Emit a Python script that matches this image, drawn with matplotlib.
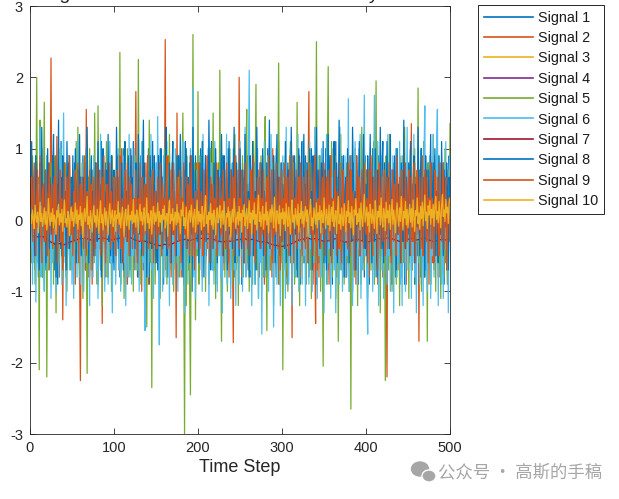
import numpy as np
import matplotlib
matplotlib.use("Agg")
import matplotlib.pyplot as plt
from matplotlib.patches import Ellipse

plt.rcParams['font.family'] = ['Liberation Sans', 'DejaVu Sans']
plt.rcParams['axes.unicode_minus'] = False

# ---- data: 10 mixed signals, 500 time steps (signals 4 and 7 sampled every 5 steps)
s1 = [.4,-.3,.7,.1,-.6,.5,.9,-.2,.3,-.8,.6,.2,-.4,1.0,-.5,.3,.7,-.7,.1,.5,-.3,.8,-.6,.4,.2,
      -.5,.9,.3,-.7,.6,-.1,.4,-.9,.7,.2,-.4,1.1,-.3,.5,-.6,.8,.1,-.8,.4,-.2,.9,-.5,.3,.6,-.7,
      .5,-.2,.8,-.6,.3,.7,-.4,.1,-.9,.6,.4,-.3,.9,-.5,.2,-.7,1.0,.3,-.4,.6,-.8,.5,.1,-.3,.7,
      -.6,.4,.8,-.2,.5,-.9,.3,.6,-.4,1.1,-.7,.2,.5,-.5,.8,-.3,.4,-.8,.7,.1,-.6,.9,-.2,.3,-.7,
      .6,.2,-.5,.9,-.3,.4,-.8,.7,.1,-.6,1.0,-.2,.5,-.9,.3,.6,-.4,.8,-.7,.2,.5,-.3,1.1,-.6,.4,
      -.2,.7,-.8,.3,.6,-.5,.9,-.1,.4,-.7,.8,.2,-.6,.5,-.3,1.0,-.9,.4,.7,-.4,.2,-.6,.9,.3,-.5,
      .8,-.3,.4,-.7,1.0,.2,-.5,.6,-.9,.3,.7,-.2,.5,-.8,.4,.9,-.6,.1,-.3,.8,-.7,.5,.2,-.4,.6,
      -.8,.9,.3,-.5,.6,-.2,.7,-.9,.4,1.1,-.6,.2,.5,-.7,.8,-.3,.4,-1.0,.6,.3,-.5,.9,-.4,.7,-.2,
      .5,-.7,1.0,.3,-.4,.6,-.8,.2,.9,-.5,.4,-.3,.8,-.6,.1,1.1,-.7,.5,-.2,.7,-.9,.3,.6,-.4,.8,
      -.3,.5,-.8,.9,.2,-.6,.7,-.4,.3,-.9,1.0,-.1,.6,-.7,.4,.8,-.5,.2,-.8,.9,-.3,.5,.1,-.6,.7,
      .4,-.9,.8,-.2,.6,-.5,1.1,-.7,.3,.5,-.4,.9,-.8,.2,.7,-.3,.6,-.9,.4,1.0,-.6,.2,-.4,.8,-.5,
      .7,.2,-.6,.9,-.4,.5,-.8,1.0,-.2,.3,-.7,.6,.4,-.5,.9,-.3,.2,-.8,.7,-.6,1.1,-.4,.5,-.2,.6,
      -.7,.8,.3,-.5,.6,-.9,.4,.7,-.3,1.0,-.6,.2,-.4,.9,-.8,.5,.3,-.7,.8,-.2,.6,-.9,.4,1.1,-.5,
      .3,-.6,.9,-.4,.7,.2,-.8,.5,-.3,1.0,-.7,.4,.6,-.5,.8,-.9,.3,.2,-.6,.9,-.4,.7,-.8,.5,.1,
      -.5,1.0,-.3,.6,-.7,.4,.8,-.6,.2,-.9,.7,.5,-.4,1.1,-.8,.3,-.2,.6,-.7,.9,.3,-.5,.8,-.3,.4,
      .6,-.8,.5,.2,-.6,.9,-.4,.7,-1.0,.3,.5,-.7,.8,-.2,.6,-.9,1.0,-.5,.4,.7,-.6,.3,-.8,.9,-.1,
      .7,-.4,.3,-.9,.8,.5,-.6,1.0,-.3,.4,-.7,.6,.2,-.8,.9,-.5,.3,-.4,.7,1.1,-.9,.5,-.2,.6,-.7,
      .3,.8,-.5,.4,-.9,.7,-.3,.6,.2,-.8,1.0,-.4,.5,-.6,.9,.3,-.7,.8,-.5,.2,-.9,.6,.4,-.3,.8,
      -.6,.5,1.0,-.7,.3,-.4,.8,-.9,.6,.1,-.5,.9,-.3,.7,-.8,.4,.6,-.6,1.1,-.2,.5,-.7,.3,.8,-.4,
      .6,-.9,.4,.7,-.3,.9,-.6,.2,-.5,1.0,-.8,.5,.3,-.7,.6,-.2,.8,-.9,.4,.7,-.5,.2,-.6,.9,.3]

s2 = [.2,-.5,.6,-.1,.4,-.7,.3,.8,-.4,.1,-.6,.5,-.2,.7,-.8,.3,-.3,.6,-.5,.9,-.2,.4,-.7,.1,2.27,
      -.3,.5,-.6,.2,.7,-.4,1.17,-.5,.3,-.8,.6,-.1,.4,-1.4,.2,.8,-.5,.3,-.7,.5,-.2,.9,-.6,.1,-.4,
      .6,-.3,.4,-.9,.2,.7,-.5,.1,-.6,-2.25,.5,-.2,.8,-.4,.3,-.7,1.55,-.3,.2,-.8,.6,-.1,.4,-.9,.5,
      -.2,.7,-.5,.3,-.6,.9,-.3,.1,-.7,.4,-1.45,.6,-.2,.5,-.8,.3,-.4,.8,-.6,.2,-.3,.7,-.9,.4,-.1,
      .5,-.6,.3,-.2,.8,-.7,.4,-.4,1.0,-.5,.2,-.8,.6,-.1,.3,-.9,.7,-.3,.5,-.6,.9,-.2,.1,-.7,.4,
      1.8,-.4,.3,-.8,.6,-.2,.5,-1.0,.7,-.3,.2,-.6,.8,-.5,.4,-.9,.3,-.1,.6,-.7,.9,-.4,.2,-.5,.7,
      -.6,.3,-.2,.8,-.9,.4,-.3,.6,-.5,.2,2.53,-.7,.5,-.4,.9,-.2,.3,-.8,.6,-.1,.4,-.6,.7,-1.65,1.5,
      -.5,.4,-.3,.7,-.8,.2,.5,-.6,.3,-.9,.8,-.2,.4,-.7,.6,-.3,.9,-.5,.1,-.6,.5,-.4,.8,-.2,.3,
      -.7,.6,-.1,.4,-.8,.9,-.3,.2,-.6,.5,-.4,.7,-.9,.3,-.2,.8,-.5,.4,-.7,1.0,-.3,.2,-.6,.7,-.4,
      .3,-.5,.8,-.2,.6,-.7,.4,-.3,.9,-.6,.2,-.8,.5,-.1,.7,-.4,-1.72,.6,-.3,.8,-.5,.3,-.6,2.0,-.2,
      .5,-.8,.4,-.3,.7,-.6,.2,-.4,.9,-.7,.3,-.1,.6,-.9,.5,-.2,.8,-.5,.4,-.6,.3,.7,-.8,.2,-.4,
      .6,-.3,.5,-.9,.2,.8,-.4,.3,-.7,.6,-.2,.4,-.8,1.0,-.5,.3,-.6,.7,-.1,.5,-.9,.4,-.3,.8,-.6,
      .2,-.5,.7,-.3,.4,-.8,.6,-.2,.9,-.6,.3,-1.65,.5,-.4,.8,-.7,.2,-.3,.6,-.5,.9,-.8,.4,-.1,.5,
      -.6,.3,-.4,.8,-.2,.5,1.8,-.7,.4,-.3,.6,-.9,.2,-.5,-1.45,.7,-.1,.5,-.8,.3,-.6,.9,-.4,.2,-.7,
      .5,-.3,.8,-.6,.2,-.9,.7,-.4,.3,-.5,1.0,-.2,.4,-.8,.6,-.3,.5,-.7,.9,-.4,.2,-.6,.7,-.2,.4,
      -.8,.6,-.3,.4,-.7,.9,-.5,.2,-.4,.8,-.6,.3,-.9,.5,-.1,.7,-.5,.4,-.8,.6,-.3,1.0,-.6,.2,-.4,
      .7,-.5,.3,-.8,.6,-.2,.4,-.7,.9,-.3,.5,-.6,.2,-.9,.8,-.4,.3,-.5,.7,-.8,.6,-.2,.4,-.6,-2.2,
      .5,-.3,.8,-.6,.4,-.9,.2,.7,-.5,.3,-.4,.9,-.7,.1,-.3,.6,-.8,.5,-.2,.7,-.6,.4,-.9,.3,-.1,
      .6,-.4,.2,1.35,-.7,.5,-.3,.8,-.6,.4,-.2,.7,-1.7,.3,-.5,.9,-.4,.6,-.8,.2,-.3,.7,-.5,.4,-.9,
      .5,-.2,.8,-.6,.3,-.7,.4,-.3,.9,-.5,.2,-.8,.6,-.1,.4,-.7,.8,-.4,.3,-.6,.5,-.9,.7,-.2,.4]

s3 = [.1,-.2,.3,0,-.1,.2,-.3,.1,.4,-.1,.2,-.2,0,.3,-.3,.1,.2,-.1,.3,-.2,0,.1,-.4,.2,.1,
      -.1,.3,-.2,.1,0,.2,-.3,.4,-.1,.1,.2,-.2,.3,0,-.1,.2,-.4,.1,.3,-.2,.1,0,.2,-.3,.1,
      .3,-.1,0,.2,-.2,.4,.1,-.3,.2,0,-.1,.3,-.2,.1,.2,-.4,.3,0,-.1,.2,-.3,.1,.4,-.2,0,
      .2,-.3,.1,.3,-.1,0,.2,-.2,.4,-.1,.1,-.3,.2,.3,-.2,0,.1,-.1,.3,-.4,.2,.1,-.2,.3,-.1,
      0,.2,-.2,.1,.4,-.3,.1,0,-.1,.3,-.2,.2,.1,-.4,.3,-.1,.2,0,-.3,.1,.3,-.2,.1,.2,-.1,
      .3,-.2,.1,-.1,.2,.4,-.3,0,.2,-.1,.3,-.2,.1,0,-.3,.2,.4,-.1,.1,-.2,.3,0,-.4,.2,.1,
      -.2,.1,.3,-.1,0,.2,-.3,.1,.3,-.2,.4,-.1,0,.2,-.2,.1,.3,-.4,.2,0,-.1,.3,-.2,.1,.2,
      -.1,.4,-.2,.1,.2,-.3,0,.3,-.1,.2,-.2,.1,.4,-.3,.1,0,-.2,.3,-.1,.2,-.4,.1,.3,-.2,0,
      .2,-.1,.3,-.3,.1,.2,0,-.2,.4,-.1,.1,-.3,.2,.3,-.2,.1,0,-.4,.3,.1,-.1,.2,-.2,.4,-.3,
      .1,.3,-.2,0,.2,-.1,.3,-.3,.1,.2,-.2,.4,-.1,0,.3,-.2,.1,-.4,.2,.3,-.1,0,.2,-.3,.1,
      -.2,.3,.1,-.1,.4,-.3,.2,0,-.2,.1,.3,-.1,.2,-.4,.1,.3,-.2,0,.2,-.1,.4,-.3,.1,.2,-.2,
      .1,0,-.3,.3,-.1,.2,.1,-.2,.4,-.3,.1,.2,-.1,.3,0,-.2,.2,-.4,.1,.3,-.1,.2,-.2,0,.3,
      -.1,.2,-.3,.1,.3,-.2,0,.4,-.1,.2,-.3,.1,.2,-.2,.3,0,-.1,.2,-.4,.1,.3,-.2,.1,.2,-.1,
      .3,-.2,.1,.2,-.3,0,.3,-.1,.1,-.4,.2,.3,-.2,.1,0,-.1,.4,-.3,.2,.1,-.2,.3,-.1,0,.2,
      -.3,.1,.2,-.1,.3,-.2,.1,.4,-.3,0,.2,-.1,.3,-.2,.1,.2,-.4,.1,0,.3,-.1,.2,-.3,.1,.3,
      -.2,0,.2,-.1,.3,-.3,.1,.2,-.2,.4,-.1,0,.3,-.2,.1,-.3,.2,.3,-.1,.1,-.4,.2,0,.3,-.1,
      .2,-.3,.1,0,.3,-.2,.4,-.1,.1,-.3,.2,.1,-.2,.3,0,-.1,.2,-.4,.3,.1,-.2,.2,-.1,.4,-.3,
      .1,.2,-.1,.3,-.3,.1,0,.2,-.2,.4,-.1,.1,-.3,.2,.3,-.2,0,.1,-.4,.2,.3,-.1,.2,-.2,.1,
      0,.3,-.2,.1,.2,-.3,.4,-.1,0,.2,-.2,.3,-.4,.1,.2,-.1,.3,-.2,0,.1,-.3,.4,-.1,.2,-.2,
      .3,-.1,.1,-.3,.2,0,.2,-.2,.3,-.1,.4,-.3,.1,0,-.2,.2,.1,-.4,.3,-.1,.2,-.2,.1,.3,-.1]

s4 = [-.10,-.14,-.08,-.16,-.12,-.06,-.11,-.18,-.13,-.09,-.15,-.07,-.12,-.17,-.10,-.13,-.08,-.14,-.19,-.11,
      -.09,-.15,-.12,-.06,-.13,-.17,-.10,-.14,-.08,-.12,-.16,-.11,-.07,-.13,-.18,-.10,-.14,-.09,-.12,-.15,
      -.11,-.06,-.13,-.17,-.09,-.14,-.10,-.16,-.12,-.08,-.15,-.11,-.18,-.13,-.07,-.12,-.16,-.10,-.14,-.09,
      -.13,-.17,-.11,-.08,-.15,-.12,-.10,-.16,-.13,-.07,-.14,-.11,-.18,-.09,-.12,-.15,-.10,-.13,-.17,-.08,
      -.12,-.14,-.09,-.16,-.11,-.13,-.07,-.15,-.12,-.10,-.17,-.13,-.08,-.14,-.11,-.16,-.10,-.12,-.15,-.09]

s5 = [.3,-.6,.9,-.2,.5,-.9,.1,2.0,-.4,.6,-2.1,1.4,-.3,.2,-.8,.4,1.65,-.5,.7,-2.2,.3,-.7,.5,-.1,.8,
      -.4,.6,-.9,.2,.9,-1.3,.4,-.2,.7,-.6,1.0,-.3,.1,-.8,.5,-.5,.8,.2,-1.0,.6,-.3,.9,-.7,.3,-.2,
      .7,-.9,.4,-.4,1.1,-.6,1.3,.1,-.8,.3,-.2,.8,-1.1,.5,-.3,.9,.2,-2.15,.6,-.5,1.0,-.7,.4,-.1,.7,
      -.6,1.5,-.3,.2,-.9,1.6,-.4,.6,-.7,.3,-1.2,.8,-.2,.5,-.5,1.1,-.8,.1,.7,-.6,.4,-1.0,.9,-.3,.2,
      .6,-.7,.3,-.2,.9,-.5,2.35,-.9,.4,-.3,.8,-1.1,.2,.6,-.6,1.0,-.4,.1,-.8,.7,-.2,.5,-1.0,.3,.9,
      -.5,.4,-.7,2.25,-.3,.6,-.9,.2,1.1,-.4,.5,-.8,.3,-1.5,.7,-.2,1.4,-.6,.4,-2.35,.8,-.3,.1,-.9,.6,
      -.4,.9,-.6,.2,-1.1,.7,-.2,.5,-.8,1.0,-.5,.3,-.9,.6,-.1,1.2,-.7,.4,-.3,.8,-1.0,.2,.5,-.6,.9,
      -.4,.6,-.8,.3,-.2,.7,1.5,-.5,-3.0,.4,-1.2,.9,-.6,.2,-.9,-2.45,.5,-.3,2.6,-.7,.8,-1.4,.3,-.5,1.8,
      -.9,.4,-.2,.9,-.6,1.1,-.4,.2,-1.0,.7,-.3,.5,-.8,.3,1.0,-.6,.1,1.5,-.7,.4,-1.1,.6,-.2,.8,-.5,
      2.1,-.4,-1.7,.5,-.3,.9,-.8,.2,.6,-1.0,.4,-.2,1.0,-.6,.3,-.9,.7,-.4,1.2,-.7,.1,.5,-1.2,.8,-.3,
      .6,-.5,.9,-.8,.2,-.3,.7,1.55,-.6,.4,-1.0,.8,-.2,.3,-.9,1.1,-.4,.5,1.9,-.7,.2,-1.1,.6,-.3,.9,
      -.5,.4,-.8,.7,1.45,-.2,-1.55,.6,-.4,1.0,-.7,.3,-.1,.8,-1.2,.5,-.3,.9,-.6,.2,2.2,-.9,.4,-.5,.7,
      -2.1,.6,-.3,.9,-.7,.2,-1.0,.5,-.4,1.1,-.6,.3,-.2,.8,-.9,.4,-.5,1.65,-.8,.3,-1.2,.7,-.1,.5,-.6,
      .9,-.4,.2,-.9,.6,-.3,1.0,-.7,.4,-1.1,.8,-.2,.5,-.6,.1,2.5,-.8,.3,-.4,.9,-1.0,.6,-.3,-2.05,.7,
      -.5,.4,-.9,.8,2.15,-.6,.2,-.3,1.1,-.8,.5,-.2,.9,-1.1,.3,.6,-1.7,.4,-.4,1.2,-.7,.1,.7,-.9,.5,
      -.3,.8,-.6,.3,-1.0,.6,-2.65,.9,-.4,.2,-.8,1.0,-.5,.4,-1.2,.7,-.2,.5,-.9,1.3,-.3,.2,-.7,.8,-.4,
      .6,-1.1,.3,-.2,.9,-.7,.5,-.4,1.1,-.9,.2,1.95,-.6,.7,-.3,.4,-1.3,.8,-.1,.5,-.8,.3,-2.25,.9,-.5,
      .4,-.7,1.2,-.3,.6,-1.0,.2,.8,-.5,.3,-.9,1.0,-.2,.5,-1.2,.7,-.4,.9,-.6,.1,1.3,-.8,.4,-.3,.6,
      -1.1,.5,-.2,.9,-.7,.3,-.5,1.0,-.9,.4,-.3,1.85,-.6,.2,.7,-1.0,.5,-.4,1.1,-.8,.3,.6,-1.7,.8,-.2,
      .4,-.9,.7,-.3,1.2,-.6,.2,-1.0,.5,-.4,.9,-.7,.3,-1.1,.8,-.2,.6,-.8,1.0,-.5,.2,-.9,.7,-.3,1.35]

s6 = [-.4,.6,-.9,.3,-.2,.8,-1.15,.1,-.6,.5,-.3,1.3,-.8,.2,.7,-.5,-1.0,.4,-.1,.9,-.7,.3,-.4,.6,-1.1,
      .2,-.6,.8,-.3,.5,-1.0,.1,.7,-.8,.4,-.2,1.0,-.9,.3,1.5,-.5,.6,-1.2,.2,-.4,.9,-.7,.1,.5,-.9,
      .4,-1.1,.7,-.2,.3,-.8,1.1,-.5,.2,-.9,.6,-.3,.8,-1.0,.1,.5,-.6,1.0,-.4,.3,-1.2,.7,-.1,.4,-.8,
      .9,-.3,.5,-.7,.2,-1.1,.6,-.4,1.2,-.8,.3,-.2,.7,-1.0,.4,-.5,.8,-.9,.1,1.1,-.6,.3,-1.3,.5,-.2,
      .6,-.9,.4,-.3,1.0,-.7,.2,-1.0,.5,-.4,.9,-.6,.3,-1.2,.7,.1,-.8,1.2,-.3,.4,-.9,.6,-.5,1.0,-.2,
      -.7,.5,-.2,.8,-1.0,.3,-.4,1.1,-.6,.2,-.9,-1.55,.6,-.3,.9,-.8,.4,-.1,1.2,-.7,.3,-1.1,.5,-.4,.8,
      -.3,1.45,-.6,-1.75,.7,-.2,.4,-1.0,.9,-.5,.3,-.8,1.1,-.4,.2,-1.2,.6,-.3,.8,-.9,.4,-.6,1.0,-.2,.5,
      -1.0,.3,-.5,.9,-.7,.2,1.1,-.4,-1.3,.6,-.2,.8,-.9,.4,-.6,1.0,-.3,.2,1.85,-.8,.5,-1.1,.7,-.4,.3,
      -.6,.9,-.2,.4,-1.0,1.2,-.5,.3,-.8,.7,-.3,1.0,-1.2,.5,-.1,.8,-.7,.2,-.9,1.1,-.4,.6,-1.0,.3,-.5,
      .7,-.8,.4,-1.3,.9,-.2,.5,-.6,1.2,-.9,.3,-.4,.8,-1.1,.6,-.3,1.0,-.7,.2,-1.2,.7,-.5,.4,-.9,1.1,
      -.3,.6,-1.0,.4,-.5,1.3,-.8,.2,-.4,.9,2.1,-.7,.5,-1.2,.3,-.2,.8,-.9,.6,-.4,1.0,-1.1,.2,-.6,.7,
      -1.6,.5,-.3,1.1,-.8,.4,-.2,.9,-1.0,.6,-.5,1.2,-.4,.3,-1.5,.7,-.6,1.0,-.9,.2,-.3,.8,-1.2,.5,-.1,
      .9,-.7,.3,-1.1,1.3,-.4,.6,-.9,.2,-.5,1.0,-1.2,.4,-.2,.8,-.8,.5,-.3,1.2,-1.0,.6,-.4,.3,-.9,1.1,
      -.5,.2,-1.2,.8,-.3,.6,-.9,1.1,-.4,.3,-1.0,.7,-.6,1.3,-.2,.5,-1.1,.9,-.5,.4,-.8,1.0,-.3,.6,-1.3,
      .4,-.6,1.2,-.9,.2,-.4,.9,-1.1,.6,-.2,1.0,-.7,.3,-1.3,.8,-.5,.4,-.9,1.3,-.3,.6,-1.0,.5,-.4,.9,
      -.8,.3,-.5,1.7,-1.0,.6,-.3,.9,-1.2,.4,-.6,1.1,-.2,.5,-.9,.8,-.4,1.2,-1.1,.3,-.7,.6,1.75,-.5,.2,
      -.9,-1.6,.7,-.3,1.0,-.6,.4,-1.0,.2,1.75,-.8,.5,-.4,1.1,-1.2,.3,-.2,.9,-.7,.6,-1.1,.8,-.3,.4,-.9,
      1.2,-.5,.3,-1.0,.7,-.4,.9,-1.3,.5,-.2,1.0,-.8,.4,-.6,1.1,-.9,.3,-1.2,.8,-.3,.6,-1.0,.2,1.3,-.7,
      .5,-.4,.9,-1.1,.3,-.6,1.2,-.8,.4,-1.3,.7,-.2,.6,-.9,1.0,-.5,.3,-1.2,.8,1.6,-.7,.4,-1.0,.6,-.3,
      .9,-1.1,.4,-.5,1.2,-.8,.3,-.6,1.0,1.55,-1.2,.5,-.3,.8,-.9,.2,-1.1,.7,-.4,1.1,-.7,.4,-1.3,.6,.9]

s7 = [-.22,-.24,-.23,-.27,-.31,-.34,-.33,-.35,-.32,-.30,-.28,-.26,-.25,-.27,-.29,-.27,-.25,-.26,-.28,-.27,
      -.26,-.24,-.22,-.25,-.28,-.30,-.29,-.31,-.33,-.35,-.36,-.34,-.35,-.33,-.30,-.28,-.27,-.29,-.27,-.25,
      -.26,-.27,-.25,-.28,-.30,-.31,-.29,-.30,-.28,-.27,-.26,-.28,-.27,-.29,-.31,-.30,-.33,-.35,-.36,-.37,
      -.36,-.34,-.31,-.28,-.27,-.25,-.27,-.26,-.28,-.30,-.29,-.27,-.26,-.29,-.31,-.30,-.28,-.27,-.29,-.31,
      -.30,-.28,-.26,-.27,-.25,-.26,-.28,-.30,-.29,-.27,-.26,-.28,-.27,-.25,-.28,-.30,-.29,-.27,-.28,-.26]

s8 = [.3,1.1,-.2,.6,.1,-.5,.9,.4,-.1,.2,-.7,.8,.2,1.3,0,.5,-.3,.7,-.6,.4,1.0,.1,-.4,.6,.2,
      -.2,.7,1.2,-.1,.3,-.8,.5,.2,1.4,-.3,.1,.6,-.5,.9,.3,-.1,.4,-.7,1.1,.2,.8,-.4,0,.5,-.2,
      .9,-.3,.2,1.0,-.6,.4,.7,-.1,1.2,0,-.5,.3,.6,-.2,.8,.1,-.4,1.3,.2,-.6,.5,.3,.9,-.1,.4,
      -.5,.2,.8,.1,-.3,1.1,-.2,.5,.3,-.8,.6,1.0,-.1,.4,-.4,.7,0,1.2,-.3,.2,-.5,.9,.4,-.6,.7,
      .2,-.1,1.3,.5,-.4,.6,.1,-.6,.8,.3,-.7,.5,1.1,-.2,.4,-.3,.9,.2,-.5,1.0,0,.6,-.2,.3,-.4,
      .8,.3,-.6,1.2,.1,-.2,.6,-.5,.4,1.4,-.1,.2,.5,-.8,.7,0,-.3,.9,.3,-.4,1.1,-.2,.5,.2,-.6,
      .4,-.7,.9,.2,-.2,1.0,.5,-.4,.3,-.1,.7,1.3,-.5,.2,0,.8,-.3,-.6,.6,1.1,-.2,.4,.1,-.5,.9,
      .1,-.3,.5,1.2,-.1,.3,-.8,.7,.4,0,1.0,-.4,.6,.2,-.6,.9,.3,-.2,1.3,.1,-.5,.7,.2,-.3,.4,
      -.6,.8,.2,-.2,1.1,0,-.5,.4,.9,-.3,.6,-.1,1.4,.3,-.7,.5,.2,-.4,.8,-.2,1.0,.3,-.6,.7,.1,
      -.3,.5,1.2,.1,-.5,.9,.3,-.1,.6,-.7,.4,1.1,-.2,0,.7,-.4,.5,1.3,-.6,.2,.8,-.1,.3,-.5,1.0,
      .3,-.4,.7,.2,-.6,1.2,.1,.5,-.3,.4,-.8,.9,.6,-.1,1.1,-.5,.2,.4,-.7,1.3,.3,0,.6,-.4,.8,
      0,1.0,-.5,.4,.2,-.7,.8,-.1,.3,1.4,-.4,.1,.7,-.3,.9,.2,-.6,.5,1.2,-.2,.6,.1,-.5,.8,-.3,
      .5,.1,-.4,1.1,-.6,.3,.8,0,.2,-.5,1.3,.4,-.3,.1,.9,-.2,.6,-.8,.5,1.0,.2,-.1,.7,-.4,.3,
      1.2,-.3,.5,0,.8,-.6,.2,1.0,-.1,.4,-.7,.9,.3,-.2,.6,1.3,-.5,.7,.1,-.4,.5,.8,-.1,1.1,-.6,
      .7,.2,-.7,.4,1.2,-.1,.9,-.5,.3,0,-.4,1.1,.5,-.2,.8,-.6,.1,1.4,-.3,.6,-.4,.2,.9,-.8,.4,
      .6,-.1,1.0,.2,-.6,.7,0,-.3,1.3,.5,-.2,.4,-.7,.9,.1,-.1,1.1,-.5,.3,.6,-.3,1.2,0,-.4,.5,
      -.5,.9,.3,-.1,1.2,.2,-.6,.6,0,-.3,1.0,.1,-.8,.7,.4,-.2,1.3,.5,-.4,.2,-.6,.8,.3,-.2,1.1,
      0,.6,-.4,1.2,-.5,.3,.7,-.1,.9,.2,-.7,1.0,-.2,.5,.4,-.6,.8,.1,-.3,1.4,0,-.4,.6,.3,-.2,
      .8,-.5,1.1,.2,-.3,.4,.9,-.6,.5,0,-.1,1.3,.2,-.5,.7,1.0,-.4,.1,.6,-.8,.9,.3,-.1,.7,-.3,
      .5,1.2,-.4,.3,.8,-.2,1.0,-.5,.4,0,-.6,.9,.1,-.2,1.1,.3,-.5,.7,0,-.1,.8,.4,-.7,.6,.2]

s9 = [.2,.6,-.3,.4,.8,0,-.5,.3,.7,-.1,.1,.9,-.2,-.6,.4,.5,0,-.3,.7,.2,-.5,.1,.8,-.2,.3,
      .5,-.4,.1,.6,-.2,.9,.2,-.6,0,.4,.7,-.3,.3,-.7,.2,.8,-.1,.1,.6,-.4,.3,.9,0,-.2,.2,
      -.5,.4,.1,.7,-.3,0,.8,-.6,.2,.5,-.2,.6,.1,-.4,.9,0,-.5,.4,.3,-.3,.7,-.1,.5,-.7,.1,
      .6,0,-.4,.8,.2,-.2,.3,.7,-.5,.1,.6,-.3,.9,0,-.6,.2,.5,-.2,.1,.8,-.4,.4,0,-.3,.6,
      .2,-.5,.7,.1,-.2,.4,.9,-.4,0,.3,-.6,.2,.7,-.1,-.3,.8,.1,-.5,.6,0,.5,-.4,.2,.3,-.2,
      .7,.1,-.6,.3,0,.8,-.3,.2,.6,-.5,.1,.5,-.2,.3,.9,-.4,0,.6,-.3,.2,.7,-.6,.1,.4,-.1,
      -.4,.6,.1,-.2,.8,.2,-.5,.5,0,.3,-.3,.4,.9,-.4,.1,.3,-.6,.7,0,-.2,.8,.2,-.5,.1,.6,
      0,-.3,.7,.2,-.6,.3,.1,.8,-.2,.2,-.4,.6,0,.5,-.5,.1,.9,-.3,.3,0,-.7,.4,.2,-.2,.5,
      .8,-.4,.1,.4,0,-.5,.7,.2,-.3,.3,.9,-.2,.1,-.6,.6,.2,-.4,.5,0,.3,-.3,.8,-.5,.1,.2,
      .6,-.2,.3,-.5,.7,.1,0,-.4,.8,.2,-.6,.3,.1,.7,-.3,0,.6,-.5,.9,.1,-.2,.2,.7,-.4,.3,
      .1,.7,-.3,.2,-.6,.4,.8,0,-.4,.3,.1,-.5,.7,.2,-.2,.9,.1,-.6,.3,0,.6,-.3,.2,.8,-.4,
      .3,-.2,.7,.1,-.5,.2,.6,-.3,.9,0,-.4,.3,.7,-.6,.1,.2,-.2,.8,.3,-.4,.1,.6,-.7,.2,.7,
      -.3,.3,0,.8,-.4,.6,.1,-.5,.7,.2,-.2,.9,.1,-.6,.3,0,.7,-.4,.2,.6,-.3,.8,0,-.5,.2,
      .6,.1,-.4,.7,0,-.6,.3,.8,-.2,.2,.1,-.5,.6,.9,-.3,.2,-.7,.3,0,.7,-.4,.1,.6,-.2,.8,
      .2,-.5,.6,0,.7,-.3,.2,.9,-.6,.1,.3,-.2,.7,.2,-.5,.4,.1,-.4,.8,0,-.6,.3,.7,-.3,.2,
      0,.6,-.4,.8,.1,-.5,.7,.2,-.2,.4,-.7,.3,.1,.9,-.3,.2,.6,-.5,0,.7,.2,-.4,.8,.1,-.2,
      .3,-.6,.7,.1,-.3,.9,0,-.5,.6,.2,-.2,.7,.1,-.7,.3,.8,-.4,.1,.6,-.3,.2,.7,-.5,0,.6,
      -.4,.3,.8,0,-.6,.2,.7,-.3,.5,.1,-.5,.9,0,-.2,.6,.2,-.6,.7,.1,.3,-.4,.8,0,-.3,.5,
      .7,0,-.5,.6,.2,-.3,.8,.1,-.6,.3,.7,-.2,.2,.6,-.4,.1,.9,-.5,0,.7,.2,-.3,.6,-.6,.3,
      .1,.8,-.4,.3,0,-.6,.7,.2,-.2,.6,.1,-.5,.8,0,-.3,.3,.7,-.4,.2,.6,-.7,.1,.3,0,-.3]

s10 = [.08,-.05,.14,.02,-.12,.21,.04,-.03,.11,-.18,.06,.25,-.02,.09,-.09,.03,.17,-.06,.12,-.14,.01,.30,.05,-.08,.10,
       -.02,.16,-.11,.07,.00,-.20,.13,.04,.22,-.07,.09,-.03,.15,-.16,.05,.28,-.04,.02,-.10,.12,.06,-.22,.08,.18,-.01,
       .11,-.09,.03,.24,-.05,.14,-.13,.07,.01,.19,-.08,.10,-.25,.04,.16,-.02,.09,.33,-.06,.05,-.12,.13,.00,-.17,.08,
       .20,-.03,.06,-.10,.15,.02,-.19,.11,.27,-.04,.08,-.14,.03,.17,-.07,.12,-.01,-.21,.09,.23,-.05,.04,.14,-.09,.01,
       .13,-.16,.07,.02,.26,-.06,.10,-.11,.05,.18,-.02,-.24,.09,.15,-.08,.03,.21,-.13,.06,.00,.12,-.05,.29,-.03,.07,
       -.10,.14,.04,-.18,.08,.22,-.01,.11,-.07,.03,.17,-.15,.06,.31,-.04,.09,-.12,.02,.13,-.20,.07,.19,-.06,.10,-.02,
       .05,.24,-.09,.12,-.03,.07,-.16,.15,.01,.20,-.11,.04,.09,-.23,.13,.27,-.05,.08,-.01,.16,-.14,.03,.11,-.07,.22,
       -.04,.10,.02,-.19,.14,.06,.25,-.08,.03,-.12,.18,.00,-.26,.09,.13,-.03,.21,.05,-.10,.07,.15,-.17,.04,.28,-.06,
       .12,-.02,.08,-.14,.19,.03,-.09,.16,.34,-.05,.06,-.18,.11,.01,.23,-.07,.09,-.13,.14,.02,-.21,.10,.17,-.04,.05,
       .20,-.11,.07,.13,-.06,.26,.00,-.15,.09,.04,.18,-.09,.12,-.24,.06,.15,-.03,.30,.08,-.12,.03,.11,-.07,.19,-.01,
       .09,-.17,.14,.05,.22,-.08,.02,.16,-.12,.07,.27,-.04,.10,-.20,.13,.01,.24,-.06,.08,-.14,.17,.35,-.02,.11,-.09,
       .04,.19,-.13,.08,.00,.25,-.07,.12,-.18,.06,.15,-.03,.21,.09,-.11,.32,.03,-.16,.13,.07,-.05,.20,-.22,.10,.02,
       .16,-.06,.11,-.15,.23,.04,-.09,.18,.01,-.20,.13,.28,-.03,.07,-.12,.16,.05,-.07,.22,-.17,.09,.02,.26,-.05,.12,
       -.10,.08,.19,-.02,.14,-.23,.06,.11,.29,-.08,.03,-.14,.17,.05,-.06,.24,-.11,.10,.01,.20,-.18,.13,.07,-.04,.31,
       .06,-.12,.15,.03,-.07,.21,-.15,.09,.18,-.02,.26,-.09,.04,.13,-.19,.11,.33,-.05,.08,-.13,.17,.02,-.08,.23,.06,
       -.16,.12,.05,.27,-.04,.10,-.11,.19,.01,-.21,.14,.07,.30,-.06,.09,-.02,.16,-.14,.24,.04,-.09,.13,.36,-.03,.08,
       .18,-.08,.11,-.17,.22,.06,-.05,.15,.02,-.12,.27,.09,-.19,.12,.04,.20,-.07,.31,.01,-.10,.16,.07,-.15,.25,.03,
       .13,-.04,.21,-.13,.08,.29,-.06,.14,.00,-.18,.11,.24,.05,-.09,.17,-.02,.33,.07,-.14,.12,.03,.26,-.07,.15,-.11,
       .09,.22,-.03,.16,-.10,.28,.04,-.16,.13,.06,.31,-.05,.10,-.13,.19,.02,.25,-.08,.14,.35,-.01,.11,-.12,.20,.07,
       .27,-.06,.15,.03,.22,-.09,.18,.33,.01,.12,-.04,.26,.08,-.11,.20,.36,.05,.14,-.02,.29,.10,.18,-.05,.24,.31]

signals = [s1, s2, s3, s4, s5, s6, s7, s8, s9, s10]
labels = ['Signal %d' % (i + 1) for i in range(10)]
n_steps = 500

# MATLAB default line colours
colors = ['#0072BD', '#D95319', '#EDB120', '#7E2F8E', '#77AC30', '#4DBEEE', '#A2142F']
axcol = '#262626'

fig = plt.figure(figsize=(6.19, 4.99), dpi=100)
ax = fig.add_axes([30/619, 1 - 434/499, 420/619, 428/499])

for i, s in enumerate(signals):
    t = np.arange(1, len(s) + 1) * (n_steps / len(s))
    ax.plot(t, s, color=colors[i % 7], lw=0.9, label=labels[i])

ax.set_xlim(0, 500)
ax.set_ylim(-3, 3)
ax.set_xticks(np.arange(0, 501, 100))
ax.set_yticks(np.arange(-3, 4, 1))
ax.tick_params(direction='in', length=4, width=0.6, colors=axcol, labelsize=10.5,
               top=True, right=True, pad=5)
for sp in ax.spines.values():
    sp.set_color(axcol)
    sp.set_linewidth(0.6)
ax.set_xlabel('Time Step', fontsize=13, color=axcol, labelpad=3)

leg = ax.legend(loc='upper left', bbox_to_anchor=(478/619, 1 - 5/499),
                bbox_transform=fig.transFigure, borderaxespad=0, fontsize=10.4,
                frameon=True, fancybox=False, edgecolor=axcol, framealpha=1,
                handlelength=3.4, handletextpad=0.35, labelspacing=0.44, borderpad=0.4)
leg.get_frame().set_linewidth(0.7)
for line in leg.get_lines():
    line.set_linewidth(1.2)
for txt in leg.get_texts():
    txt.set_color('#1a1a1a')

# title cut off by the top edge, only the descenders show
fig.text(240/619, 1 + 1/499, 'Signals Observed via the Sensor Array Model',
         ha='center', va='baseline', fontsize=14, color=axcol)

# watermark
wm = '#a6a6a6'
fig.patches.append(Ellipse((420/619, 1 - 469/499), 17/619, 14/499, color=wm,
                           transform=fig.transFigure, figure=fig))
fig.patches.append(Ellipse((429/619, 1 - 476/499), 14/619, 12/499, color=wm, ec='white',
                           lw=1, transform=fig.transFigure, figure=fig))
fig.text(438/619, 1 - 472/499, '公众号 · 高斯的手稿', fontsize=12.5, color=wm,
         family=['Noto Sans CJK SC', 'DejaVu Sans'], ha='left', va='center')

fig.savefig('out.png', dpi=100)
